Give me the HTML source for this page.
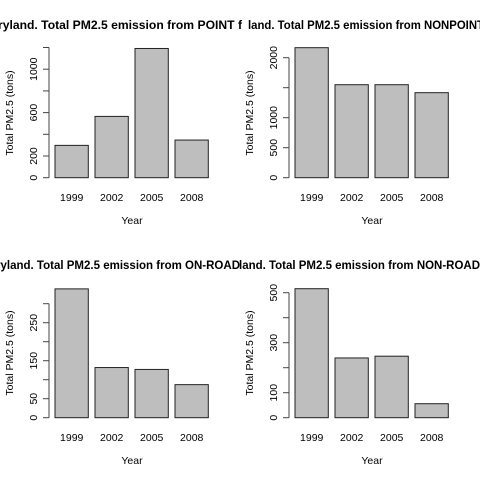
<!DOCTYPE html>
<html><head><meta charset="utf-8"><style>
html,body{margin:0;padding:0;background:#fff}
svg{display:block;font-family:"Liberation Sans",sans-serif}
</style></head><body>
<svg id="c" width="480" height="480"></svg>
<script>
const years = ["1999","2002","2005","2008"];
const pointValues = [298, 565, 1191, 347];
const nonpointValues = [2167, 1550, 1550, 1417];
const onroadValues = [339, 132, 127, 87];
const nonroadValues = [516, 239, 246, 56];
const pointTicks = [0,200,400,600,800,1000,1200];
const pointTickLabels = ["0","200","","600","","1000",""];
const nonpointTicks = [0,500,1000,1500,2000];
const nonpointTickLabels = ["0","500","1000","","2000"];
const onroadTicks = [0,50,100,150,200,250,300];
const onroadTickLabels = ["0","50","","150","","250",""];
const nonroadTicks = [0,100,200,300,400,500];
const nonroadTickLabels = ["0","100","","300","","500"];
const titles = ["ryland. Total PM2.5 emission from POINT f","land. Total PM2.5 emission from NONPOINT","ryland. Total PM2.5 emission from ON-ROAD","land. Total PM2.5 emission from NON-ROAD"];

const NS="http://www.w3.org/2000/svg";
const svg=document.getElementById('c');
function mk(tag,attrs,parent){const e=document.createElementNS(NS,tag);for(const k in attrs)e.setAttribute(k,attrs[k]);(parent||svg).appendChild(e);return e;}

const panels=[
 {ox:0,oy:0,vals:pointValues,ticks:pointTicks,labels:pointTickLabels,pxPer:21.7/200,title:titles[0],tx:-2,tl:244,name:'point'},
 {ox:240,oy:0,vals:nonpointValues,ticks:nonpointTicks,labels:nonpointTickLabels,pxPer:30/500,title:titles[1],tx:248,tl:236,name:'nonpoint'},
 {ox:0,oy:240,vals:onroadValues,ticks:onroadTicks,labels:onroadTickLabels,pxPer:19/50,title:titles[2],tx:-4,tl:244,name:'onroad'},
 {ox:240,oy:240,vals:nonroadValues,ticks:nonroadTicks,labels:nonroadTickLabels,pxPer:25/100,title:titles[3],tx:239,tl:241,name:'nonroad'}
];
panels.forEach(p=>{
 const g=mk('g',{});
 
 
 const y0=p.oy+177.7;
 const yS=v=>y0-v*p.pxPer;
 const xS=i=>p.ox+55+i*40;
 const t=mk('text',{x:p.tx,y:p.oy+29,'font-size':12,'font-weight':'bold',textLength:p.tl,lengthAdjust:'spacingAndGlyphs',fill:'#000'},g);
 t.textContent=p.title;
 
 
 p.vals.forEach((v,i)=>{
  const r=mk('rect',{x:xS(i),y:yS(v),width:33.3,height:y0-yS(v),fill:'#bebebe',stroke:'#222','stroke-width':1},g);
  
  
  const l=mk('text',{x:xS(i)+16.7,y:p.oy+201,'font-size':10.5,'text-anchor':'middle',fill:'#000'},g);
  l.textContent=years[i];
  
  
 });
 const ax=p.ox+49;
 const tl=p.ticks[p.ticks.length-1];
 const a=mk('line',{x1:ax,x2:ax,y1:y0,y2:yS(tl),stroke:'#444','stroke-width':1},g);
 
 
 p.ticks.forEach((tv,i)=>{
  mk('line',{x1:ax-6,x2:ax,y1:yS(tv),y2:yS(tv),stroke:'#444'},g);
  if(p.labels[i]){
   const tt=mk('text',{x:0,y:0,'font-size':10.5,'text-anchor':'middle',transform:`translate(${p.ox+37},${yS(tv)}) rotate(-90)`,fill:'#000'},g);
   tt.textContent=p.labels[i];
   
   
  }
 });
 const yl=mk('text',{x:0,y:0,'font-size':10.5,'text-anchor':'middle',transform:`translate(${p.ox+13},${p.oy+113}) rotate(-90)`,fill:'#000'},g);
 yl.textContent='Total PM2.5 (tons)';
 
 
 const xl=mk('text',{x:p.ox+132,y:p.oy+224,'font-size':10.5,'text-anchor':'middle',fill:'#000'},g);
 xl.textContent='Year';
 
 
});
</script>
</body></html>
